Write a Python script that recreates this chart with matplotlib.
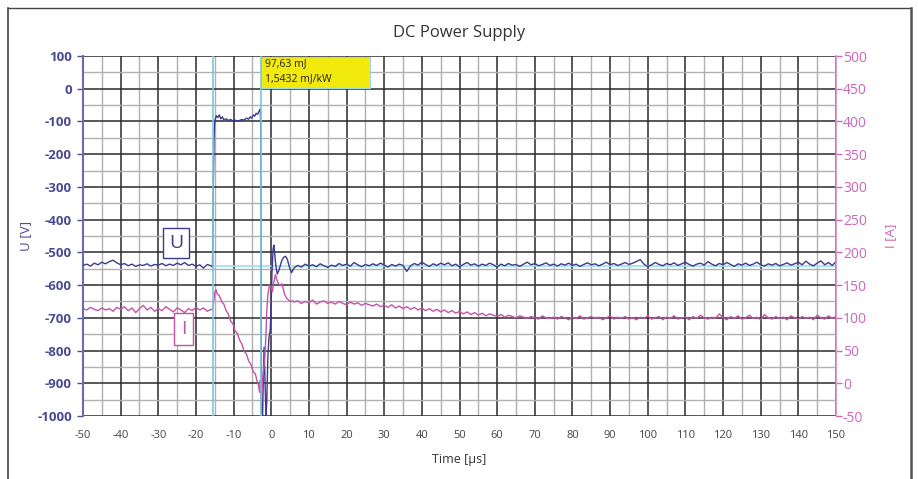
import matplotlib
matplotlib.use('Agg')
import matplotlib.pyplot as plt
import matplotlib.patches as patches
import numpy as np
from matplotlib.lines import Line2D
from matplotlib.ticker import MultipleLocator

plt.rcParams['font.family'] = ['Open Sans', 'DejaVu Sans']
plt.rcParams['axes.unicode_minus'] = False

# --- data ---
# voltage U [V]: baseline before the event (1 us steps, -50 .. -16)
t_u_pre = np.arange(-50, -15)
u_pre = [-540, -536, -542, -533, -538, -530, -535, -528, -524, -532,
         -538, -534, -541, -536, -543, -538, -540, -535, -542, -537,
         -539, -534, -541, -536, -540, -533, -538, -531, -540, -536,
         -543, -538, -548, -537, -541]
# event region
t_u_evt = [-15.6, -15.4, -15.2, -15.0, -14.6, -14.2, -13.8, -13.4, -13.0, -12.6,
           -12.0, -11.4, -10.8, -10.2, -9.6, -9.0, -8.4, -7.8, -7.2, -6.6,
           -6.0, -5.6, -5.2, -4.8, -4.4, -4.0, -3.6, -3.2, -2.9, -2.8,
           -2.7, -2.6, -2.3, -2.1, -1.9, -1.7, -1.4, -1.2, -0.9, -0.6,
           -0.3, -0.1, 0.2, 0.5, 0.7, 0.9, 1.2, 1.6, 2.0, 2.4,
           2.8, 3.3, 3.8, 4.3, 4.8, 5.4]
u_evt = [-545, -300, -150, -100, -82, -88, -80, -92, -86, -95,
         -92, -97, -94, -98, -96, -99, -97, -94, -96, -90,
         -93, -86, -90, -80, -84, -75, -78, -68, -62, -120,
         -400, -980, -1000, -880, -790, -870, -1000, -960, -820, -760,
         -740, -690, -560, -490, -478, -500, -540, -566, -556, -540,
         -525, -515, -512, -522, -545, -562]
# after the event (1 us steps, 6 .. 150)
t_u_post = np.arange(6, 151)
u_post = [-548, -540, -545, -536, -542, -538, -544, -535, -541, -546,
          -539, -543, -534, -540, -536, -542, -531, -538, -544, -537,
          -541, -535, -540, -533, -539, -545, -537, -542, -536, -540,
          -558, -541, -534, -539, -530, -537, -543, -535, -540, -533,
          -538, -532, -541, -536, -544, -537, -531, -539, -535, -542,
          -536, -540, -533, -538, -545, -536, -541, -534, -539, -537,
          -543, -536, -530, -538, -534, -541, -537, -532, -540, -536,
          -542, -535, -539, -533, -540, -536, -543, -537, -532, -538,
          -535, -541, -536, -530, -538, -534, -540, -536, -531, -537,
          -533, -528, -522, -536, -544, -538, -531, -537, -541, -534,
          -538, -532, -540, -535, -530, -537, -542, -536, -533, -539,
          -528, -536, -541, -534, -538, -531, -537, -543, -535, -539,
          -533, -540, -536, -530, -538, -542, -535, -539, -534, -541,
          -537, -532, -539, -535, -530, -538, -527, -536, -541, -533,
          -526, -538, -531, -540, -528]

# current I [A]
t_i_pre = np.arange(-50, -15)
i_pre = [114, 112, 116, 113, 111, 115, 112, 114, 110, 116,
         113, 117, 111, 115, 108, 114, 119, 112, 116, 110,
         114, 111, 117, 113, 109, 115, 112, 108, 114, 111,
         116, 112, 115, 110, 113]
t_i_evt = [-15.6, -15.3, -15.0, -14.7, -14.3, -13.8, -13.2, -12.6, -12.0, -11.4,
           -10.8, -10.2, -9.6, -9.0, -8.4, -7.8, -7.2, -6.6, -6.0, -5.4,
           -4.8, -4.2, -3.8, -3.4, -3.1, -2.9, -2.6, -2.3, -2.0, -1.7,
           -1.4, -1.2, -0.9, -0.5, -0.1, 0.3, 0.7, 1.1, 1.5, 1.9,
           2.4, 2.8, 3.2, 3.6, 4.1, 4.6, 5.2, 5.8]
i_evt = [112, 125, 138, 143, 136, 134, 125, 121, 111, 106,
         95, 91, 80, 76, 66, 60, 49, 45, 34, 29,
         18, 14, 4, -3, -14, 5, -30, 5, 22, 40,
         75, 110, 135, 150, 148, 140, 155, 166, 158, 152,
         150, 152, 144, 135, 130, 127, 125, 126]
t_i_post = np.arange(6, 151)
i_post = [124, 126, 122, 125, 123, 127, 121, 124, 126, 122,
          124, 121, 125, 122, 120, 124, 121, 123, 119, 122,
          120, 118, 121, 117, 119, 116, 120, 115, 118, 114,
          117, 113, 116, 112, 115, 111, 114, 110, 113, 109,
          112, 108, 111, 107, 110, 106, 109, 105, 108, 104,
          107, 103, 106, 104, 102, 105, 101, 104, 102, 100,
          103, 101, 99, 102, 100, 98, 103, 100, 99, 101,
          98, 102, 100, 97, 101, 99, 103, 98, 100, 102,
          99, 101, 97, 100, 103, 98, 101, 99, 102, 98,
          100, 97, 101, 99, 103, 98, 100, 102, 97, 101,
          99, 103, 98, 100, 101, 97, 102, 99, 104, 100,
          98, 101, 99, 106, 100, 97, 102, 99, 103, 98,
          100, 104, 99, 101, 97, 105, 100, 98, 102, 99,
          101, 97, 103, 100, 98, 102, 99, 101, 97, 104,
          100, 98, 103, 99, 102]

t_u = list(t_u_pre) + t_u_evt + list(t_u_post)
u = u_pre + u_evt + u_post
t_i = list(t_i_pre) + t_i_evt + list(t_i_post)
cur = i_pre + i_evt + i_post

cursor_t = [-15.5, -2.7]
cursor_u = -543
energy_lines = ["97,63 mJ", "1,5432 mJ/kW"]

navy = '#3b3b8f'
u_col = '#4a4a94'
mag = '#c453a8'
mag_lbl = '#cc66bb'
cyan = '#7cc6dc'

fig = plt.figure(figsize=(9.18, 4.79), dpi=100)
ax = fig.add_axes([83/918, 1-416/479, 753/918, 360/479])
ax2 = ax.twinx()

ax.set_xlim(-50, 150)
ax.set_ylim(-1000, 100)
ax2.set_ylim(-50, 500)

ax.xaxis.set_major_locator(MultipleLocator(10))
ax.xaxis.set_minor_locator(MultipleLocator(5))
ax.yaxis.set_major_locator(MultipleLocator(100))
ax.yaxis.set_minor_locator(MultipleLocator(50))
ax2.yaxis.set_major_locator(MultipleLocator(50))

ax.grid(which='major', color='#2a2a2a', lw=1.1)
ax.grid(which='minor', color='#b0b0b0', lw=1.0)
ax.set_axisbelow(True)

ax.plot(t_u, u, color=navy, lw=1.0, zorder=5)
ax2.plot(t_i, cur, color=mag, lw=1.0, zorder=5)

# energy box (under the cursors)
ax.add_patch(patches.Rectangle((-2.7, 2), 28.9, 95, fc='#f2ea0c', ec='#a0d8e0',
                               lw=0.8, zorder=7))
ax.text(-1.6, 77, energy_lines[0], fontsize=7.5, va='center', ha='left',
        color='#222222', zorder=8)
ax.text(-1.6, 30, energy_lines[1], fontsize=7.5, va='center', ha='left',
        color='#222222', zorder=8)

# cursors (drawn over the traces)
for ct in cursor_t:
    ax2.axvline(ct, color=cyan, lw=1.2, zorder=6)
ax.plot([cursor_t[0], 150], [cursor_u, cursor_u], color='#9ee0ea', lw=1.2, zorder=3)

# spines
for s in ['top', 'right', 'bottom']:
    ax.spines[s].set_visible(False)
    ax2.spines[s].set_visible(False)
ax.spines['left'].set_color('#6b6baf')
ax.spines['left'].set_linewidth(1.5)
ax2.spines['left'].set_visible(False)
ax2.spines['right'].set_visible(True)
ax2.spines['right'].set_color('#d488c8')
ax2.spines['right'].set_linewidth(1.2)

ax.tick_params(axis='y', which='major', colors=u_col, labelsize=9.5, length=4, width=1, pad=4)
ax.tick_params(axis='y', which='minor', length=0)
ax.tick_params(axis='x', which='major', colors='#444444', labelsize=8, length=0, pad=10)
ax.tick_params(axis='x', which='minor', length=0)
ax2.tick_params(axis='y', colors=mag_lbl, labelsize=10, length=4, width=1, pad=1)
for lbl in ax.get_yticklabels():
    lbl.set_fontweight('bold')

ax.set_title('DC Power Supply', fontsize=12, color='#333333', pad=14)
ax.set_xlabel('Time [µs]', fontsize=9, color='#333333', labelpad=9)
ax.set_ylabel('U [V]', fontsize=9.5, color=u_col, labelpad=4)
ax2.set_ylabel('I [A]', fontsize=9.5, color=mag_lbl, labelpad=12)

# U / I markers
ax.text(-25.2, -472, 'U', fontsize=14, color=navy, ha='center', va='center', zorder=6,
        bbox=dict(boxstyle='square,pad=0.3', fc='white', ec=navy, lw=1.0))
ax.text(-23.2, -735, 'I', fontsize=14, color=mag, ha='center', va='center', zorder=6,
        bbox=dict(boxstyle='square,pad=0.35', fc='white', ec=mag, lw=1.0))

# outer frame
fig.add_artist(Line2D([8/918, 8/918], [0, 1-8/479], color='#444444', lw=1.2))
fig.add_artist(Line2D([8/918, 911/918], [1-8/479, 1-8/479], color='#444444', lw=1.0))
fig.add_artist(Line2D([911/918, 911/918], [0, 1-8/479], color='#555555', lw=1.8))

fig.savefig('out.png', dpi=100)
